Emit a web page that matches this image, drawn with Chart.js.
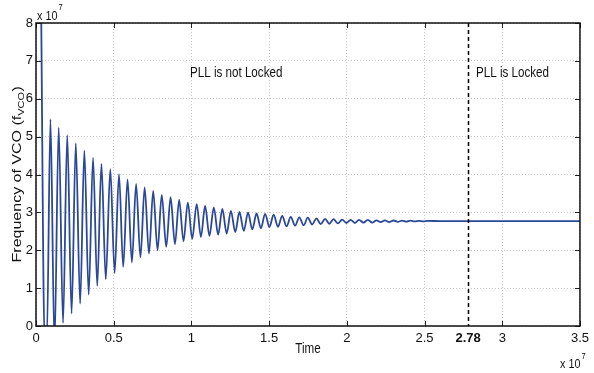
<!DOCTYPE html>
<html><head><meta charset="utf-8">
<script src="https://cdn.jsdelivr.net/npm/chart.js@4"></script>
<style>html,body{margin:0;padding:0;background:#fff}#wrap{width:594px;height:373px;position:relative}</style>
</head><body><div id="wrap"><canvas id="c" width="594" height="373"></canvas></div>
<script>
// ---- data (time in units of 1e7, frequency in units of 1e7) ----
const timeTicks = [0, 0.5, 1, 1.5, 2, 2.5, 2.78, 3, 3.5];
const freqTicks = [0, 1, 2, 3, 4, 5, 6, 7, 8];
const lockTime = 2.78;
const startTime = [0.033, 0.055, 0.070];
const startFreq = [8.4, -0.3, -0.3];
const peakTime = [0.093,0.146,0.201,0.256,0.311,0.367,0.421,0.478,0.534,0.589,0.644,0.699,0.754,0.809,0.866,0.921,0.977,1.034,1.088,1.144,1.199,1.254,1.309,1.364,1.419,1.474,1.529,1.584,1.639,1.694,1.749,1.804,1.860,1.914,1.970,2.025,2.079,2.135,2.190,2.245,2.300,2.355,2.410,2.465,2.520];
const peakFreq = [5.46,5.24,5.04,4.82,4.63,4.44,4.28,4.14,4.01,3.87,3.75,3.66,3.57,3.46,3.40,3.33,3.26,3.22,3.17,3.13,3.09,3.04,3.01,2.99,2.97,2.96,2.94,2.91,2.88,2.87,2.86,2.84,2.83,2.82,2.81,2.80,2.80,2.80,2.79,2.79,2.785,2.78,2.78,2.775,2.775];
const troughTime = [0.119,0.174,0.229,0.284,0.339,0.394,0.449,0.506,0.561,0.617,0.672,0.727,0.782,0.838,0.894,0.949,1.005,1.061,1.116,1.172,1.227,1.282,1.337,1.392,1.447,1.502,1.557,1.612,1.667,1.722,1.777,1.832,1.887,1.942,1.997,2.052,2.107,2.163,2.218,2.273,2.328,2.383,2.438,2.493];
const troughFreq = [-0.5,0.08,0.33,0.59,0.83,1.06,1.23,1.40,1.56,1.68,1.81,1.91,2.00,2.09,2.16,2.24,2.30,2.35,2.38,2.41,2.44,2.48,2.51,2.55,2.58,2.61,2.62,2.63,2.65,2.66,2.68,2.69,2.70,2.71,2.72,2.72,2.73,2.73,2.74,2.745,2.75,2.755,2.76,2.765];
const endTime = [2.600, 3.500];
const endFreq = [2.77, 2.77];

// ---- build point table ----
const pts = [];
startTime.forEach((t, i) => pts.push({x: t, y: startFreq[i]}));
peakTime.forEach((t, i) => {
  pts.push({x: t, y: peakFreq[i]});
  if (i < troughTime.length) pts.push({x: troughTime[i], y: troughFreq[i]});
});
endTime.forEach((t, i) => pts.push({x: t, y: endFreq[i]}));

const FONT = "'Liberation Sans', Arial, sans-serif";
const SQ = 0.83; // horizontal squeeze of the reference lettering

function narrowText(ctx, txt, x, y, size, align) {
  ctx.save();
  ctx.font = size + 'px ' + FONT;
  const w = ctx.measureText(txt).width * SQ;
  let x0 = x;
  if (align === 'center') x0 = x - w / 2;
  else if (align === 'right') x0 = x - w;
  ctx.translate(x0, y);
  ctx.scale(SQ, 1);
  ctx.textAlign = 'left';
  ctx.fillText(txt, 0, 0);
  ctx.restore();
  return w;
}

const decor = {
  id: 'decor',
  afterDatasetsDraw(chart) {
    const {ctx, chartArea: a, scales: {x, y}} = chart;
    ctx.save();
    // lock line
    const lx = Math.round(x.getPixelForValue(lockTime)) + 0.5;
    ctx.strokeStyle = '#000'; ctx.lineWidth = 1.5; ctx.setLineDash([4, 3]);
    ctx.beginPath(); ctx.moveTo(lx, a.top); ctx.lineTo(lx, a.bottom); ctx.stroke();
    ctx.setLineDash([]);
    // inward ticks
    ctx.strokeStyle = '#222'; ctx.lineWidth = 1;
    ctx.beginPath();
    timeTicks.forEach(v => {
      if (v === lockTime) return;
      const px = Math.round(x.getPixelForValue(v)) + 0.5;
      ctx.moveTo(px, a.bottom); ctx.lineTo(px, a.bottom - 5);
      ctx.moveTo(px, a.top); ctx.lineTo(px, a.top + 5);
    });
    freqTicks.forEach(v => {
      const py = Math.round(y.getPixelForValue(v)) + 0.5;
      ctx.moveTo(a.left, py); ctx.lineTo(a.left + 5, py);
      ctx.moveTo(a.right, py); ctx.lineTo(a.right - 5, py);
    });
    ctx.stroke();
    // box
    ctx.strokeStyle = '#111'; ctx.lineWidth = 1.5;
    ctx.strokeRect(a.left, a.top, a.right - a.left, a.bottom - a.top);
    // annotations
    ctx.fillStyle = '#111';
    ctx.textBaseline = 'alphabetic';
    narrowText(ctx, 'PLL is not Locked', 190, 77, 14, 'left');
    narrowText(ctx, 'PLL is Locked', 476, 77, 14, 'left');
    // exponent labels
    let w = narrowText(ctx, 'x 10', 37, 20, 13, 'left');
    narrowText(ctx, '7', 37 + w + 1, 10, 9, 'left');
    w = narrowText(ctx, 'x 10', 560, 368, 13, 'left');
    narrowText(ctx, '7', 560 + w + 1, 359, 9, 'left');
    // x title
    narrowText(ctx, 'Time', (a.left + a.right) / 2, 353, 14, 'center');
    // y title with subscript (rotated)
    ctx.translate(21, (a.top + a.bottom) / 2);
    ctx.rotate(-Math.PI / 2);
    ctx.scale(1, SQ);
    ctx.textAlign = 'left';
    ctx.font = '16px ' + FONT;
    const s1 = 'Frequency of VCO (f', s3 = ')';
    const w1 = ctx.measureText(s1).width, w3 = ctx.measureText(s3).width;
    ctx.font = '11px ' + FONT;
    const w2 = ctx.measureText('VCO').width;
    const sx = -(w1 + w2 + w3) / 2;
    ctx.font = '16px ' + FONT;
    ctx.fillText(s1, sx, 0);
    ctx.font = '11px ' + FONT;
    ctx.fillText('VCO', sx + w1, 4);
    ctx.font = '16px ' + FONT;
    ctx.fillText(s3, sx + w1 + w2 + 0.5, 0);
    ctx.restore();
  }
};

new Chart(document.getElementById('c'), {
  type: 'line',
  data: { datasets: [{
    data: pts,
    borderColor: '#2b4898',
    borderWidth: 1.8,
    pointRadius: 0,
    cubicInterpolationMode: 'monotone',
    fill: false
  }]},
  options: {
    responsive: false,
    animation: false,
    devicePixelRatio: 1,
    layout: { padding: { left: 0, right: 7, top: 23, bottom: 0 } },
    plugins: { legend: { display: false }, tooltip: { enabled: false } },
    scales: {
      x: {
        type: 'linear', min: 0, max: 3.5,
        afterBuildTicks: s => { s.ticks = timeTicks.map(v => ({ value: v })); },
        afterFit: s => { s.height = 47; },
        grid: {
          color: c => (c.tick && c.tick.value === lockTime) ? 'rgba(0,0,0,0)' : '#c4c4c4',
          lineWidth: 1, drawTicks: false
        },
        border: { display: false, dash: [1, 2] },
        ticks: {
          color: '#111', padding: 5, maxRotation: 0, autoSkip: false,
          font: c => ({ family: FONT, size: 13, weight: (c.tick && c.tick.value === lockTime) ? 'bold' : 'normal' }),
          callback: v => String(v)
        }
      },
      y: {
        type: 'linear', min: 0, max: 8,
        afterBuildTicks: s => { s.ticks = freqTicks.map(v => ({ value: v })); },
        afterFit: s => { s.width = 36; },
        grid: { color: '#c4c4c4', lineWidth: 1, drawTicks: false },
        border: { display: false, dash: [1, 2] },
        ticks: { color: '#111', padding: 3, font: { family: FONT, size: 13 }, callback: v => String(v) }
      }
    }
  },
  plugins: [decor]
});
</script>
</body></html>
